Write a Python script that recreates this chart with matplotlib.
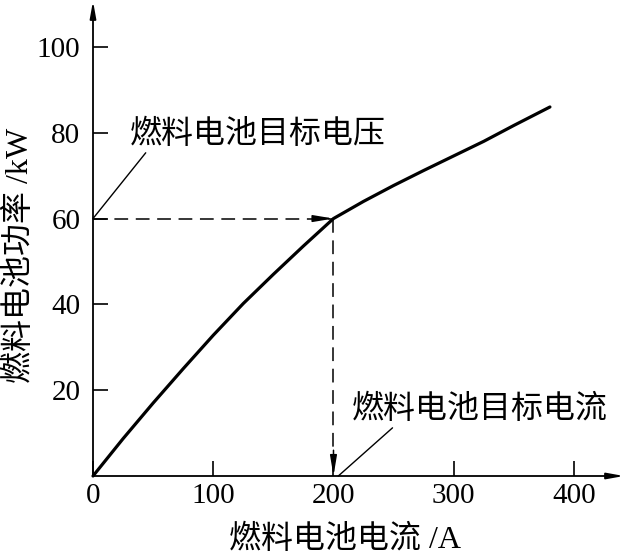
import matplotlib
matplotlib.use("Agg")
import matplotlib.pyplot as plt

# ── Data ────────────────────────────────────────────────────────────────────
current = [0, 25, 50, 75, 100, 125, 150, 175, 200,
           225, 250, 275, 300, 325, 350, 380]                     # A
power = [0, 8.7, 17, 25, 32.8, 40.2, 47, 53.6, 60,
         64, 67.7, 71.2, 74.6, 78, 81.7, 86]                      # kW
target_current = 200
target_power = 60
x_ticks = [0, 100, 200, 300, 400]
y_ticks = [20, 40, 60, 80, 100]

FONT = ["Liberation Serif", "Noto Sans CJK SC", "DejaVu Sans"]
plt.rcParams["font.family"] = FONT

W, H = 626, 556
fig = plt.figure(figsize=(W / 100, H / 100), dpi=100)
# axes box in pixels: left 93, bottom 80, width 531, height 475
ax = fig.add_axes([93 / W, 80 / H, 531 / W, 475 / H])
ax.set_xlim(0, 441.6)
ax.set_ylim(0, 110.7)

for side in ["top", "right", "left", "bottom"]:
    ax.spines[side].set_visible(False)

# axes drawn as arrows
arrow_kw = dict(arrowstyle="-|>,head_length=1.0,head_width=0.18",
                color="black", lw=1.3, shrinkA=0, shrinkB=0)
ax.annotate("", xy=(1, 0), xytext=(0, 0), xycoords="axes fraction",
            arrowprops=arrow_kw, annotation_clip=False)
ax.annotate("", xy=(0, 1), xytext=(0, 0), xycoords="axes fraction",
            arrowprops=arrow_kw, annotation_clip=False)

ax.set_xticks(x_ticks)
ax.set_yticks(y_ticks)
ax.tick_params(axis="both", direction="in", length=11, width=1.2,
               labelsize=21, colors="black")
ax.tick_params(axis="y", pad=9)
ax.tick_params(axis="x", pad=5)

# power curve
ax.plot(current, power, color="black", lw=2.3, solid_capstyle="round",
        solid_joinstyle="round", clip_on=False)

# dashed guides to the operating point
ax.plot([0, target_current], [target_power, target_power], color="black",
        lw=1.1, dashes=(9, 5))
ax.plot([target_current, target_current], [target_power, 0], color="black",
        lw=1.1, dashes=(9, 5))
head_kw = dict(arrowstyle="-|>,head_length=1.2,head_width=0.2",
               color="black", lw=1.1, shrinkA=0, shrinkB=0)
ax.annotate("", xy=(target_current, target_power),
            xytext=(target_current - 12, target_power), arrowprops=head_kw)
ax.annotate("", xy=(target_current, 0),
            xytext=(target_current, 6), arrowprops=head_kw,
            annotation_clip=False)

# callouts
leader = dict(arrowstyle="-", color="black", lw=1.0, shrinkA=0, shrinkB=0)
ax.annotate("燃料电池目标电压", xy=(0, target_power), xytext=(30.8, 79.5),
            va="center", ha="left", fontsize=23,
            arrowprops=dict(leader, relpos=(0.07, 0.0)),
            annotation_clip=False)
ax.annotate("燃料电池目标电流", xy=(target_current + 4, 0),
            xytext=(215.5, 15.4), va="center", ha="left", fontsize=23,
            arrowprops=dict(leader, relpos=(0.17, 0.0)),
            annotation_clip=False)

# axis titles
fig.text(345 / W, 1 - 540 / H, "燃料电池电流 /A", ha="center", va="center",
         fontsize=23)
fig.text(20 / W, 1 - 255 / H, "燃料电池功率 /kW", ha="center", va="center",
         rotation=90, fontsize=23)

fig.savefig("out.png", dpi=100)
